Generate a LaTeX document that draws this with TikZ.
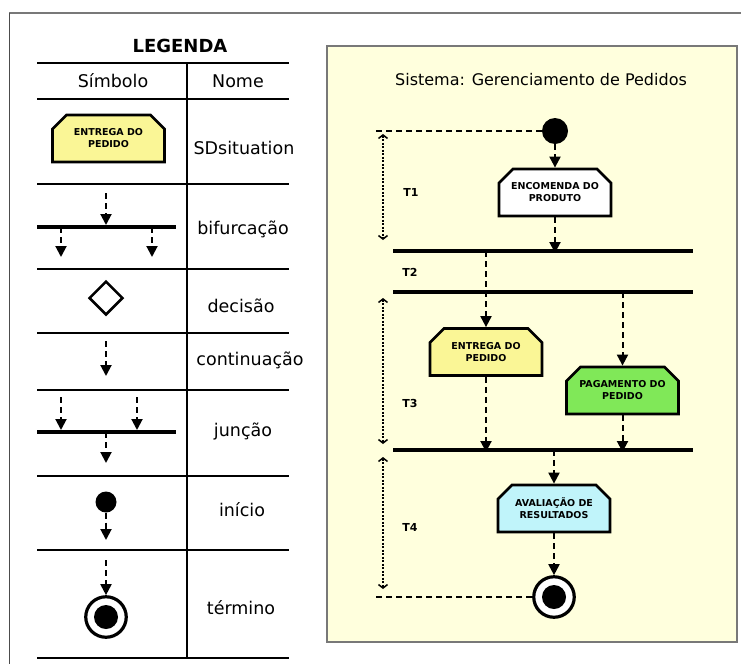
\documentclass[tikz,border=0pt]{standalone}
\usepackage{fontspec}
\setmainfont{DejaVu Sans}
\usetikzlibrary{arrows.meta,shapes.misc,shapes.geometric}
\definecolor{panelbg}{RGB}{255,255,221}
\definecolor{boxyellow}{RGB}{250,246,150}
\definecolor{boxgreen}{RGB}{128,232,88}
\definecolor{boxcyan}{RGB}{192,244,250}
\definecolor{framegray}{RGB}{120,120,120}
\begin{document}
\begin{tikzpicture}[x=1pt,y=-1pt,
  act/.style={chamfered rectangle,
    chamfered rectangle corners={north west,north east},
    chamfered rectangle xsep=7pt, chamfered rectangle ysep=7pt,
    draw, line width=2.8pt, minimum width=112pt, minimum height=47pt,
    inner sep=0pt, align=center,
    font=\bfseries\fontsize{9.5}{12}\selectfont},
  flow/.style={line width=2pt, dash pattern=on 6pt off 4pt,
    -{Triangle[width=11pt,length=11pt]}},
  guide/.style={line width=2pt, dash pattern=on 6pt off 4pt},
  span/.style={line width=1.3pt, dash pattern=on 2pt off 1.5pt,
    {Straight Barb[length=3.5pt,width=9pt,line width=1.5pt]}-{Straight Barb[length=3.5pt,width=9pt,line width=1.5pt]}},
  bar/.style={line width=3.5pt},
  rule/.style={line width=2pt},
  legtext/.style={font=\fontsize{17.5}{20}\selectfont},
  tlabel/.style={font=\bfseries\fontsize{11}{13}\selectfont},
  startdot/.style={circle, fill=black, inner sep=0pt},
  endring/.style={circle, draw, line width=3.2pt, fill=white, inner sep=0pt, minimum size=40.5pt},
  enddot/.style={circle, fill=black, inner sep=0pt, minimum size=24pt}
]
\useasboundingbox (0,0) rectangle (741,664);
\fill[white] (0,0) rectangle (741,664);

% outer frame
\draw[framegray, line width=2pt] (9,13) -- (741,13);
\draw[black!70, line width=1pt] (9,13) -- (9,664);

% ---------------- legend table ----------------
\node[font=\bfseries\fontsize{18}{21}\selectfont] (legtitle) at (180,46) {LEGENDA};
\draw[rule] (37,63) -- (289,63);
\draw[rule] (37,99) -- (289,99);
\draw[rule] (37,184) -- (289,184);
\draw[rule] (37,269) -- (289,269);
\draw[rule] (37,333) -- (289,333);
\draw[rule] (37,390) -- (289,390);
\draw[rule] (37,476) -- (289,476);
\draw[rule] (37,550) -- (289,550);
\draw[rule] (37,658) -- (289,658);
\draw[line width=1.5pt] (187,63) -- (187,658);

\node[legtext] (hsym) at (113,81) {Símbolo};
\node[legtext] (hname) at (238,81) {Nome};

% situation
\node[act, fill=boxyellow] (lsit) at (108.5,138.5) {ENTREGA DO\\PEDIDO};
\node[legtext] (nsit) at (244,148) {SDsituation};

% fork
\coordinate (lfin) at (106,193);
\coordinate (lfbw) at (37,227);
\coordinate (lfbe) at (176,227);
\draw[bar] (lfbw) -- (lfbe);
\draw[flow] (lfin) -- (106,225);
\coordinate (lfo1) at (61,257);
\coordinate (lfo2) at (152,257);
\draw[flow] (lfo1 |- lfbw) -- (lfo1);
\draw[flow] (lfo2 |- lfbw) -- (lfo2);
\node[legtext] (nfork) at (243,229) {bifurcação};

% decision
\node[diamond, draw, line width=2.5pt, minimum size=34pt, inner sep=0pt] (ldec) at (106,298) {};
\node[legtext] (ndec) at (241,306) {decisão};

% continuation
\coordinate (lc1) at (106,341);
\coordinate (lc2) at (106,376);
\draw[flow] (lc1) -- (lc2);
\node[legtext] (ncont) at (250,360) {continuação};

% join
\coordinate (ljbw) at (37,432);
\coordinate (ljbe) at (176,432);
\draw[bar] (ljbw) -- (ljbe);
\coordinate (lji1) at (61,397);
\coordinate (lji2) at (137,397);
\draw[flow] (lji1) -- (61,430);
\draw[flow] (lji2) -- (137,430);
\coordinate (ljo) at (106,463);
\draw[flow] (ljo |- ljbw) -- (ljo);
\node[legtext] (njoin) at (243,432) {junção};

% start
\node[startdot, minimum size=21pt] (lstart) at (106,502) {};
\coordinate (lso) at (106,540);
\draw[flow] (lstart.south) -- (lso);
\node[legtext] (nstart) at (242,510) {início};

% end
\node[endring] (lend) at (106,617) {};
\node[enddot] (lendc) at (lend) {};
\coordinate (lei) at (106,560);
\draw[flow] (lei) -- (lend.north);
\node[legtext] (nend) at (241,608) {término};

% ---------------- system panel ----------------
\draw[fill=panelbg, draw=framegray, line width=1.5pt] (327,46) rectangle (737,642);
\node[font=\fontsize{16}{19}\selectfont] (systitle) at (541,80) {Sistema: Gerenciamento de Pedidos};

% synchronisation bars
\coordinate (b1w) at (393,251); \coordinate (b1e) at (693,251);
\coordinate (b2w) at (393,292); \coordinate (b2e) at (693,292);
\coordinate (b3w) at (393,450); \coordinate (b3e) at (693,450);
\draw[bar] (b1w) -- (b1e);
\draw[bar] (b2w) -- (b2e);
\draw[bar] (b3w) -- (b3e);

% activities
\node[startdot, minimum size=26pt] (start) at (555,131) {};
\node[act, fill=white] (enc) at (555,192.5) {ENCOMENDA DO\\PRODUTO};
\node[act, fill=boxyellow] (ent) at (486,352) {ENTREGA DO\\PEDIDO};
\node[act, fill=boxgreen] (pag) at (622.5,390.5) {PAGAMENTO DO\\PEDIDO};
\node[act, fill=boxcyan] (ava) at (554,508.5) {AVALIAÇÃO DE\\RESULTADOS};
\node[endring] (fin) at (554,597) {};
\node[enddot] (finc) at (fin) {};

% flows
\draw[flow] (start.south) -- (enc.north);
\draw[flow] (enc.south) -- ([yshift=-2pt]enc.south |- b1w);
\draw[flow] (ent.north |- b1w) -- (ent.north);
\draw[flow] (pag.north |- b2w) -- (pag.north);
\draw[flow] (ent.south) -- ([yshift=-2pt]ent.south |- b3w);
\draw[flow] (pag.south) -- ([yshift=-2pt]pag.south |- b3w);
\draw[flow] (ava.north |- b3w) -- (ava.north);
\draw[flow] (ava.south) -- (fin.north);

% time span guides
\coordinate (gtop) at (375,131);
\coordinate (gbot) at (375,597);
\draw[guide] (start.west) -- (gtop);
\draw[guide] (fin.west) -- (gbot);
\coordinate (s1a) at (383,134); \coordinate (s1b) at (383,240);
\coordinate (s3a) at (383,298); \coordinate (s3b) at (383,444);
\coordinate (s4a) at (383,457); \coordinate (s4b) at (383,589);
\draw[span] (s1a) -- (s1b);
\draw[span] (s3a) -- (s3b);
\draw[span] (s4a) -- (s4b);

\node[tlabel] (t1) at (411,192) {T1};
\node[tlabel] (t2) at (410,272) {T2};
\node[tlabel] (t3) at (410,403) {T3};
\node[tlabel] (t4) at (410,527) {T4};
\end{tikzpicture}
\end{document}
